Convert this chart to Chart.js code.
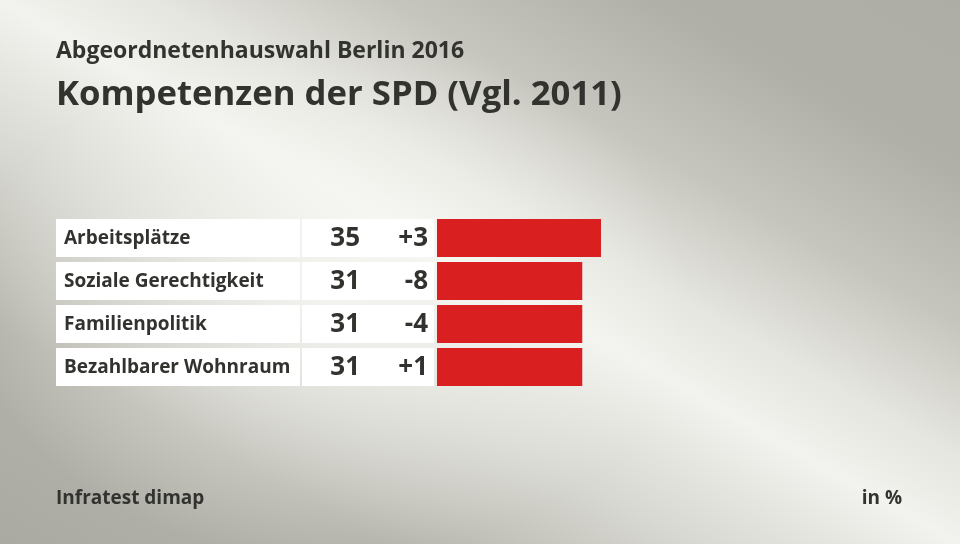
<!DOCTYPE html>
<html lang="de">
<head>
<meta charset="utf-8">
<title>Kompetenzen der SPD (Vgl. 2011)</title>
<script src="https://cdn.jsdelivr.net/npm/chart.js@4.4.1/dist/chart.umd.min.js"></script>
<style>
  html, body { margin: 0; padding: 0; }
  body {
    width: 960px; height: 544px; overflow: hidden;
    background:
      radial-gradient(ellipse 360px 260px at 330px 300px, rgba(250,250,246,0.75), rgba(250,250,246,0) 100%),
      linear-gradient(to top right,
        #abaaa2 0%, #b4b3ab 20%, #d8d8d2 36%, #f2f2ee 50%,
        #e6e6e0 58%, #c6c5be 70%, #b1b0a8 84%, #aeada5 100%);
  }
  #wrap { position: relative; width: 960px; height: 544px; }
</style>
</head>
<body>
<div id="wrap"><canvas id="chart" width="960" height="544"></canvas></div>
<script>
// Daten
const categories = ['Arbeitsplätze', 'Soziale Gerechtigkeit', 'Familienpolitik', 'Bezahlbarer Wohnraum'];
const values = [35, 31, 31, 31];
const changes = ['+3', '-8', '-4', '+1'];

const subtitle = 'Abgeordnetenhauswahl Berlin 2016';
const title = 'Kompetenzen der SPD (Vgl. 2011)';
const source = 'Infratest dimap';
const unit = 'in %';

const FONT = '"Open Sans", "Noto Sans", sans-serif';
const TEXT = '#32322f';

// Tabellenzellen, Beschriftungen und Texte rund um die Balken
const tablePlugin = {
  id: 'table',
  beforeDatasetsDraw(chart) {
    const { ctx } = chart;
    const meta = chart.getDatasetMeta(0);
    ctx.save();
    meta.data.forEach((bar, i) => {
      const top = bar.y - bar.height / 2;
      const h = bar.height;
      ctx.fillStyle = '#ffffff';
      ctx.fillRect(56, top, 244, h);
      ctx.fillRect(302, top, 132, h);

      ctx.fillStyle = TEXT;
      ctx.textBaseline = 'middle';
      ctx.textAlign = 'left';
      ctx.font = `700 19px ${FONT}`;
      ctx.fillText(categories[i], 64, bar.y + 1);

      ctx.textAlign = 'right';
      ctx.font = `700 26px ${FONT}`;
      ctx.fillText(String(values[i]), 360, bar.y + 1);
      ctx.fillText(changes[i], 428, bar.y + 1);
    });
    ctx.restore();
  },
  afterDraw(chart) {
    const { ctx } = chart;
    ctx.save();
    ctx.fillStyle = TEXT;
    ctx.textBaseline = 'alphabetic';
    ctx.textAlign = 'left';
    ctx.font = `700 23px ${FONT}`;
    ctx.fillText(subtitle, 56, 58);
    ctx.font = `700 34.7px ${FONT}`;
    ctx.fillText(title, 56, 105);
    ctx.font = `700 19px ${FONT}`;
    ctx.fillText(source, 56, 504);
    ctx.textAlign = 'right';
    ctx.fillText(unit, 902, 504);
    ctx.restore();
  }
};

new Chart(document.getElementById('chart'), {
  type: 'bar',
  data: {
    labels: categories,
    datasets: [{
      data: values,
      backgroundColor: '#d91f1f',
      borderWidth: 0,
      categoryPercentage: 1,
      barPercentage: 0.884
    }]
  },
  options: {
    indexAxis: 'y',
    responsive: false,
    animation: false,
    layout: { padding: { left: 437, right: 54.4, top: 216.5, bottom: 155.5 } },
    scales: {
      x: { display: false, min: 0, max: 100 },
      y: { display: false }
    },
    plugins: {
      legend: { display: false },
      tooltip: { enabled: false }
    }
  },
  plugins: [tablePlugin]
});
</script>
</body>
</html>
